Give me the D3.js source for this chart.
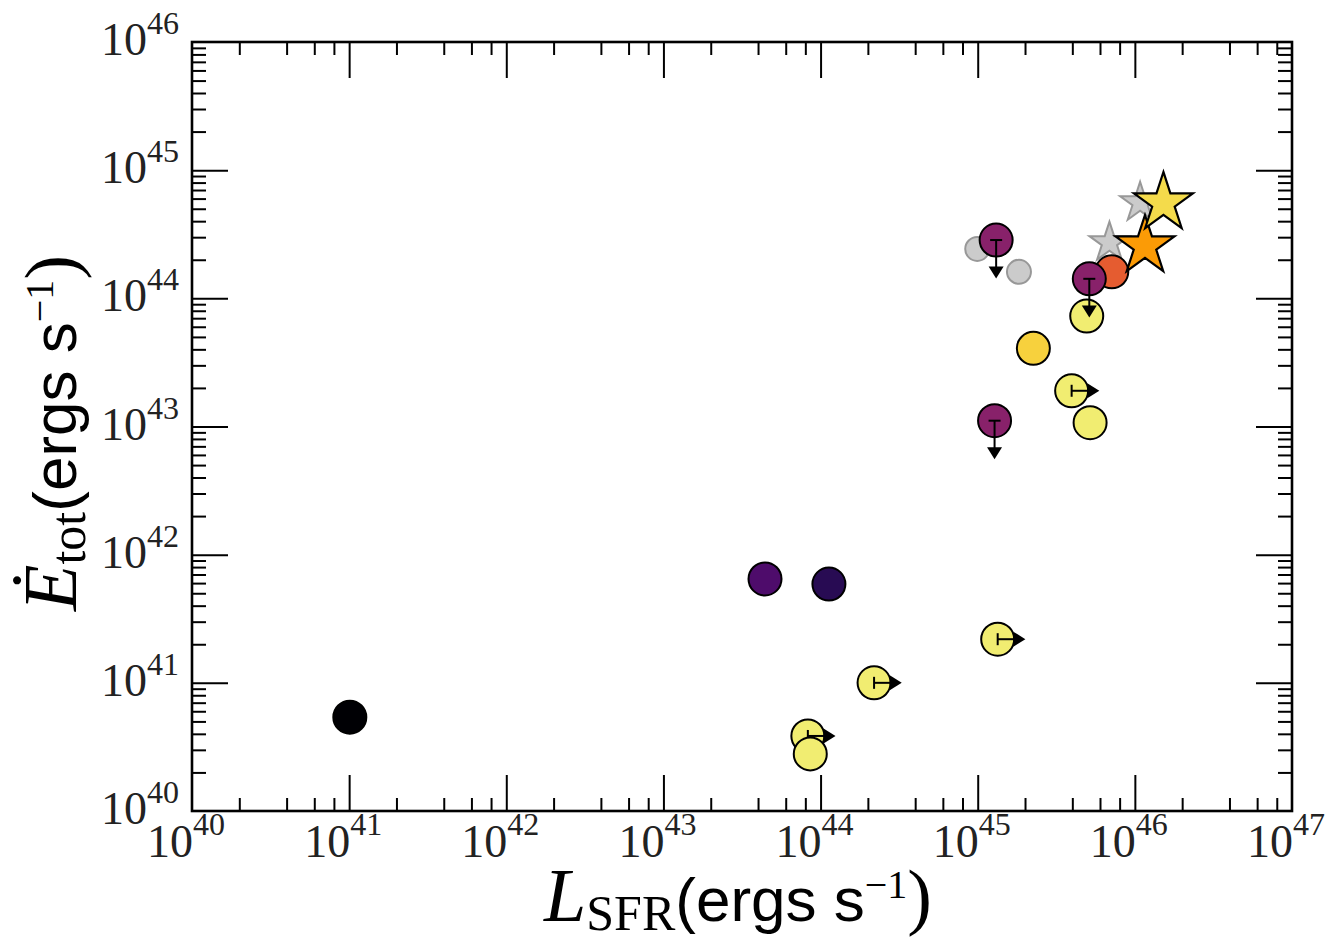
<!DOCTYPE html>
<html>
<head>
<meta charset="utf-8">
<script src="https://cdn.jsdelivr.net/npm/d3@7"></script>
<style>
  body { margin: 0; background: #fff; }
  svg { display: block; }
</style>
</head>
<body>
<script>
// L_SFR (x) and Edot_tot (y), ergs s^-1
const circleL = [9.93e44, 1.83e45];          // faded grey circles
const circleE = [2.43e44, 1.61e44];

const ghostStarL = [6.89e45, 1.08e46];       // faded grey stars
const ghostStarE = [2.72e44, 5.57e44];

const pointL = [8.3e43, 8.6e43, 2.19e44, 1.34e45, 3.96e45, 5.19e45, 4.94e45, 2.26e45, 7.13e45, 5.13e45, 1.31e45, 1.28e45, 4.43e43, 1.13e44, 1.01e41];
const pointE = [3.85e40, 2.79e40, 1.0e41, 2.19e41, 1.9e43, 1.07e43, 7.28e43, 4.07e43, 1.61e44, 1.42e44, 2.85e44, 1.11e43, 6.46e41, 5.9e41, 5.4e40];
const pointColor = ["#f1ed71", "#f1ed71", "#f1ed71", "#f1ed71", "#f1ed71", "#f1ed71", "#f1ed71", "#f7d13d", "#e55c30", "#88216a", "#88216a", "#88216a", "#4e0c6b", "#280b53", "#000004"];
// "lower" = lower limit on L (arrow right), "upper" = upper limit on E (arrow down)
const pointLimit = ["lower", "", "lower", "lower", "lower", "", "", "", "", "upper", "upper", "upper", "", "", ""];

const starL = [1.16e46, 1.52e46];
const starE = [2.56e44, 5.55e44];
const starColor = ["#fb9b06", "#f4db4b"];

const xExps = [40, 41, 42, 43, 44, 45, 46, 47];
const yExps = [40, 41, 42, 43, 44, 45, 46];

const W = 1332, H = 940;
const pLeft = 192, pRight = 1292, pTop = 42, pBottom = 811;

const svg = d3.select("body").append("svg").attr("width", W).attr("height", H);

const x = d3.scaleLog().domain([1e40, 1e47]).range([pLeft, pRight]);
const y = d3.scaleLog().domain([1e40, 1e46]).range([pBottom, pTop]);

const xMajor = xExps.map(e => Math.pow(10, e));
const yMajor = yExps.map(e => Math.pow(10, e));
const xMinor = [], yMinor = [];
xExps.slice(0, -1).forEach(e => [2, 4, 6, 8].forEach(m => xMinor.push(m * Math.pow(10, e))));
yExps.slice(0, -1).forEach(e => d3.range(2, 10).forEach(m => yMinor.push(m * Math.pow(10, e))));

function ticks(axis, vals, size, tx, ty) {
  const g = svg.append("g")
    .attr("transform", "translate(" + tx + "," + ty + ")")
    .call(axis.tickValues(vals).tickSize(size).tickFormat(""));
  g.select(".domain").remove();
  g.selectAll("line").attr("stroke", "#000").attr("stroke-width", 2);
}

ticks(d3.axisBottom(x), xMajor.slice(1, -1), -36, 0, pBottom);
ticks(d3.axisBottom(x), xMinor, -13, 0, pBottom);
ticks(d3.axisTop(x), xMajor.slice(1, -1), -36, 0, pTop);
ticks(d3.axisTop(x), xMinor, -13, 0, pTop);
ticks(d3.axisLeft(y), yMajor.slice(1, -1), -36, pLeft, 0);
ticks(d3.axisLeft(y), yMinor, -14, pLeft, 0);
ticks(d3.axisRight(y), yMajor.slice(1, -1), -36, pRight, 0);
ticks(d3.axisRight(y), yMinor, -14, pRight, 0);

svg.append("rect")
  .attr("x", pLeft).attr("y", pTop)
  .attr("width", pRight - pLeft).attr("height", pBottom - pTop)
  .attr("fill", "none").attr("stroke", "#000").attr("stroke-width", 2.6);

// tick labels
const serif = "'Liberation Serif', 'DejaVu Serif', serif";
xExps.forEach(e => {
  const px = x(Math.pow(10, e));
  svg.append("text").attr("x", px + 1).attr("y", 857)
    .attr("text-anchor", "end").style("font-family", serif).style("font-size", "46px")
    .attr("fill", "#222").text("10");
  svg.append("text").attr("x", px + 1).attr("y", 835)
    .style("font-family", serif).style("font-size", "32px")
    .attr("fill", "#222").text(e);
});
yExps.forEach(e => {
  const py = y(Math.pow(10, e));
  const t = svg.append("text").attr("x", 179).attr("y", py + 13)
    .attr("text-anchor", "end").style("font-family", serif).attr("fill", "#222");
  t.append("tspan").style("font-size", "46px").text("10");
  t.append("tspan").style("font-size", "32px").attr("dy", -21).text(e);
});

// axis titles
function title(t, sym, sub) {
  t.attr("text-anchor", "middle");
  t.append("tspan").style("font-family", serif).style("font-style", "italic").style("font-size", "76px").text(sym);
  t.append("tspan").style("font-family", serif).style("font-size", "50px").attr("dy", 9).text(sub);
  t.append("tspan").style("font-family", "'Liberation Sans', Arial, sans-serif").style("font-size", "62px").attr("dy", -9).text("(ergs s");
  t.append("tspan").style("font-family", serif).style("font-size", "40px").attr("dy", -23).text("\u22121");
  t.append("tspan").style("font-family", serif).style("font-size", "74px").attr("dy", 23).text(")");
}
title(svg.append("text").attr("x", 738).attr("y", 921), "L", "SFR");
title(svg.append("text").attr("transform", "translate(76,433) rotate(-90)"), "\u0116", "tot");

// markers
function starPath(cx, cy, R) {
  const r = R * 0.381966;
  const pts = d3.range(10).map(i => {
    const a = -Math.PI / 2 + i * Math.PI / 5;
    const rr = i % 2 ? r : R;
    return [cx + rr * Math.cos(a), cy + rr * Math.sin(a)];
  });
  return "M" + pts.join("L") + "Z";
}

svg.append("g").selectAll("circle")
  .data(d3.zip(circleL, circleE))
  .enter().append("circle")
  .attr("cx", d => x(d[0])).attr("cy", d => y(d[1])).attr("r", 12)
  .attr("fill", "gray").attr("stroke", "#000").attr("stroke-width", 2)
  .attr("opacity", 0.4);

svg.append("g").selectAll("path")
  .data(d3.zip(ghostStarL, ghostStarE))
  .enter().append("path")
  .attr("d", d => starPath(x(d[0]), y(d[1]), 21))
  .attr("fill", "gray").attr("stroke", "#000").attr("stroke-width", 2)
  .attr("opacity", 0.4);

const marks = svg.append("g");
pointL.forEach((L, i) => {
  const cx = x(L), cy = y(pointE[i]);
  marks.append("circle")
    .attr("cx", cx).attr("cy", cy).attr("r", 16.5)
    .attr("fill", pointColor[i]).attr("stroke", "#000").attr("stroke-width", 2);
  if (pointLimit[i] === "upper") {
    const ty = y(pointE[i] * 0.5);
    marks.append("line").attr("x1", cx).attr("x2", cx).attr("y1", cy).attr("y2", ty - 6)
      .attr("stroke", "#000").attr("stroke-width", 2);
    marks.append("line").attr("x1", cx - 6).attr("x2", cx + 6).attr("y1", cy).attr("y2", cy)
      .attr("stroke", "#000").attr("stroke-width", 2);
    marks.append("path").attr("d", "M" + (cx - 7.5) + "," + (ty - 12) + "L" + (cx + 7.5) + "," + (ty - 12) + "L" + cx + "," + ty + "Z")
      .attr("fill", "#000");
  } else if (pointLimit[i] === "lower") {
    const tx = x(L * 1.5);
    marks.append("line").attr("x1", cx).attr("x2", tx - 6).attr("y1", cy).attr("y2", cy)
      .attr("stroke", "#000").attr("stroke-width", 2);
    marks.append("line").attr("x1", cx).attr("x2", cx).attr("y1", cy - 6).attr("y2", cy + 6)
      .attr("stroke", "#000").attr("stroke-width", 2);
    marks.append("path").attr("d", "M" + (tx - 12) + "," + (cy - 7.5) + "L" + (tx - 12) + "," + (cy + 7.5) + "L" + tx + "," + cy + "Z")
      .attr("fill", "#000");
  }
});

svg.append("g").selectAll("path")
  .data(d3.zip(starL, starE, starColor))
  .enter().append("path")
  .attr("d", d => starPath(x(d[0]), y(d[1]), 31))
  .attr("fill", d => d[2]).attr("stroke", "#000").attr("stroke-width", 2.2)
  .attr("stroke-linejoin", "miter");
</script>
</body>
</html>
